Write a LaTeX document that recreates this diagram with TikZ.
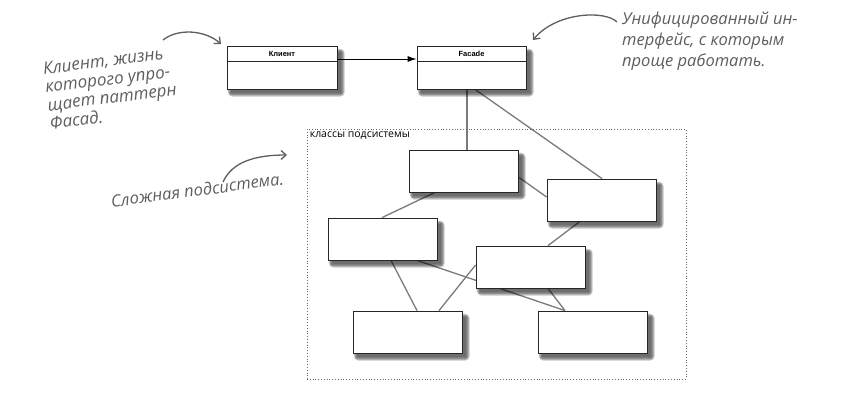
\documentclass[tikz,border=0pt]{standalone}
\usepackage{fontspec}
\setmainfont{Open Sans}
\newfontfamily\handfont{Open Sans}
\newfontfamily\boxfont{Liberation Sans}
\usetikzlibrary{arrows.meta,calc,backgrounds}
\definecolor{linegray}{HTML}{7A7A7A}
\definecolor{handgray}{HTML}{5E5E5E}
\tikzset{
  classbox/.style={draw=black!85, line width=0.8pt, fill=white,
    minimum width=109pt, minimum height=42pt, inner sep=0pt},
  boxlabel/.style={font=\boxfont\bfseries\fontsize{7.5}{9}\selectfont, inner sep=0pt},
  link/.style={draw=linegray, line width=1.3pt},
  shade layer/.style={fill=black, opacity=0.13},
  handtext/.style={font=\handfont\itshape\fontsize{16.5}{19}\selectfont, text=handgray, inner sep=0pt},
  handarrow/.style={draw=handgray, line width=1.3pt, -{Straight Barb[length=5pt,width=9pt]}},
}
\newcommand\boxshade[1]{%
  \foreach \r in {0,...,5}{%
    \fill[shade layer, rounded corners=\r pt]
      ($(#1.north west)+(4-0.6*\r,6-0.6*\r)$) rectangle ($(#1.south east)+(4+0.7*\r,4+0.7*\r)$);
  }%
}
\begin{document}
\begin{tikzpicture}[x=1pt,y=-1pt]
\useasboundingbox (0,0) rectangle (844,406);

% class boxes
\node[classbox, minimum height=43pt, minimum width=110pt] (client) at (282,67.5) {};
\node[classbox, minimum height=43pt] (facade) at (471.5,67.5) {};
\node[boxlabel] (clientlbl) at ($(client.north)+(0,8)$) {Клиент};
\node[boxlabel] (facadelbl) at ($(facade.north)+(0,8)$) {Facade};
\draw[line width=0.8pt, black!85] ($(client.north west)+(0,16)$) -- ($(client.north east)+(0,16)$);
\draw[line width=0.8pt, black!85] ($(facade.north west)+(0,16)$) -- ($(facade.north east)+(0,16)$);
\draw[line width=0.9pt, -{Latex[length=9pt,width=6pt]}] ($(client.east)+(0,-8.5)$) -- ($(facade.west)+(0,-8.5)$);

% subsystem frame
\node[draw=black!60, dotted, line width=0.8pt, minimum width=379pt, minimum height=250pt, inner sep=0pt] (sub) at (496.5,254) {};
\node[anchor=north west, inner sep=0pt, font=\fontsize{10.5}{12}\selectfont] (sublbl) at ($(sub.north west)+(3,3)$) {классы подсистемы};

% subsystem classes
\node[classbox] (b1) at (463.5,171) {};
\node[classbox] (b2) at (601.5,200) {};
\node[classbox] (b3) at (382.5,239) {};
\node[classbox] (b4) at (530.5,267) {};
\node[classbox] (b5) at (407.5,332) {};
\node[classbox] (b6) at (592.5,332) {};

\begin{pgfonlayer}{background}
\fill[white] (0,0) rectangle (844,406);
\draw[link] ($(facade.south)+(-4.5,0)$) -- ($(b1.north)+(3.5,0)$);
\draw[link] ($(facade.south)+(3.5,0)$) -- ($(b2.north)+(0.5,0)$);
\draw[link] ($(b1.east)+(0,6)$) -- ($(b2.west)+(0,-3)$);
\draw[link] ($(b1.south)+(-28.5,0)$) -- ($(b3.north)+(-0.5,0)$);
\draw[link] ($(b2.south)+(-21.5,0)$) -- ($(b4.north)+(17.5,0)$);
\draw[link] ($(b3.south)+(8.5,0)$) -- ($(b5.north)+(9.5,0)$);
\draw[link] ($(b3.south)+(34.5,0)$) -- ($(b6.north)+(-27.5,0)$);
\draw[link] ($(b4.west)+(0,-2)$) -- ($(b5.north)+(31.5,0)$);
\draw[link] ($(b4.south)+(17.5,0)$) -- ($(b6.north)+(-27.5,0)$);
\boxshade{client}
\boxshade{facade}
\boxshade{b1}
\boxshade{b2}
\boxshade{b3}
\boxshade{b4}
\boxshade{b5}
\boxshade{b6}
\end{pgfonlayer}

% annotations
\node[handtext, align=left, rotate=7, font=\handfont\itshape\fontsize{17}{18.5}\selectfont] (noteclient) at (111,88) {Клиент, жизнь\\которого упро-\\щает паттерн\\Фасад.};
\node[handtext, align=left, anchor=north west, font=\handfont\itshape\fontsize{16.5}{21}\selectfont] (notefacade) at (622,12) {Унифицированный ин-\\терфейс, с которым\\проще работать.};
\node[handtext, anchor=base, rotate=7.5] (notesub) at (198,196) {Сложная подсистема.};

\coordinate (a1s) at (163,40);
\coordinate (a1e) at (221,44);
\coordinate (a2s) at (617,22);
\coordinate (a2e) at (533,40);
\coordinate (a3s) at (223,182);
\coordinate (a3e) at (287,155);
\draw[handarrow] (a1s) .. controls (178,28) and (205,30) .. (a1e);
\draw[handarrow] (a2s) .. controls (605,10) and (556,12) .. (a2e);
\draw[handarrow] (a3s) .. controls (232,162) and (255,155) .. (a3e);
\end{tikzpicture}
\end{document}
